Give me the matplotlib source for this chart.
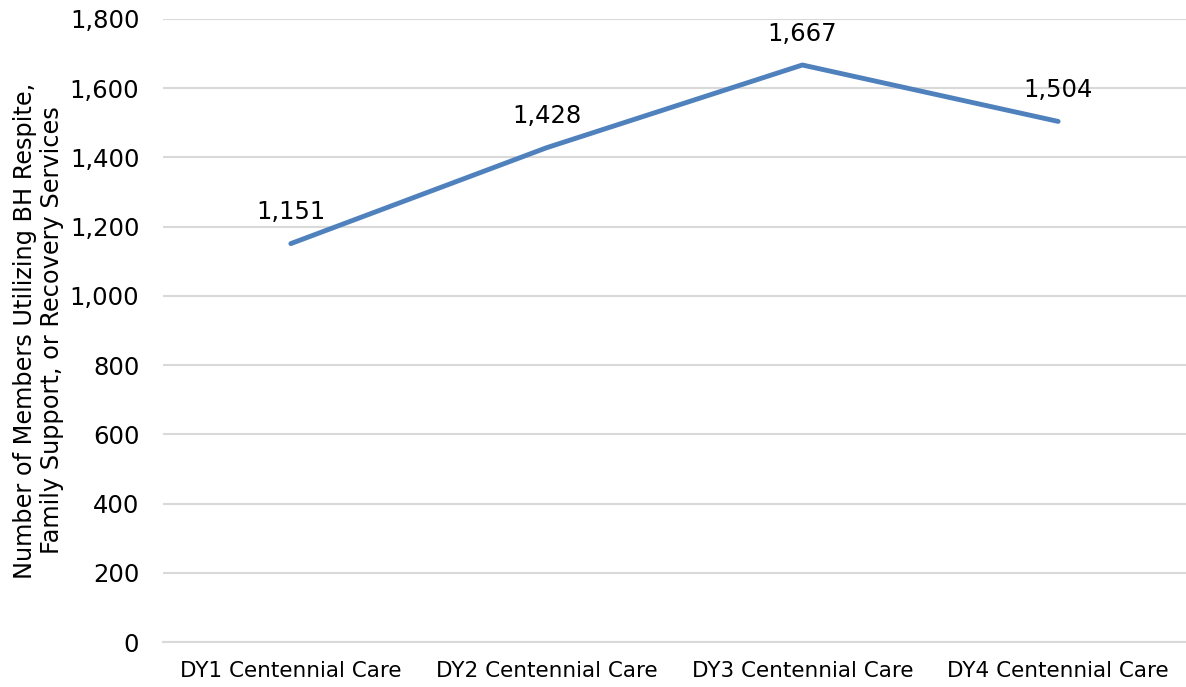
import matplotlib.pyplot as plt
from matplotlib.ticker import FuncFormatter

categories = ['DY1 Centennial Care', 'DY2 Centennial Care',
              'DY3 Centennial Care', 'DY4 Centennial Care']
members = [1151, 1428, 1667, 1504]

fig = plt.figure(figsize=(11.86, 6.87), dpi=100)
ax = fig.add_axes([0.1374, 0.0655, 0.8626, 0.9069])

x = range(len(categories))
ax.plot(x, members, color='#4f81bd', linewidth=3.5, solid_capstyle='round')

for xi, v in zip(x, members):
    ax.annotate(f'{v:,}', (xi, v), xytext=(0, 14), textcoords='offset points',
                ha='center', va='bottom', fontsize=17.5, color='black')

ax.set_xlim(-0.5, 3.5)
ax.set_ylim(0, 1800)
ax.set_yticks(range(0, 1801, 200))
ax.yaxis.set_major_formatter(FuncFormatter(lambda v, p: f'{int(v):,}'))
ax.set_xticks(list(x))
ax.set_xticklabels(categories, fontsize=15.5)
ax.tick_params(axis='y', labelsize=17.5, length=0, pad=17)
ax.tick_params(axis='x', length=0, pad=14)

ax.grid(axis='y', color='#d9d9d9', linewidth=1.5)
ax.set_axisbelow(True)
for s in ['top', 'right', 'left']:
    ax.spines[s].set_visible(False)
ax.spines['bottom'].set_color('#d9d9d9')
ax.spines['bottom'].set_linewidth(1.5)

ax.set_ylabel('Number of Members Utilizing BH Respite,\nFamily Support, or Recovery Services',
              fontsize=17.3, linespacing=1.15)
ax.yaxis.set_label_coords(-0.097, 0.5)

fig.savefig('out.png', dpi=100)
